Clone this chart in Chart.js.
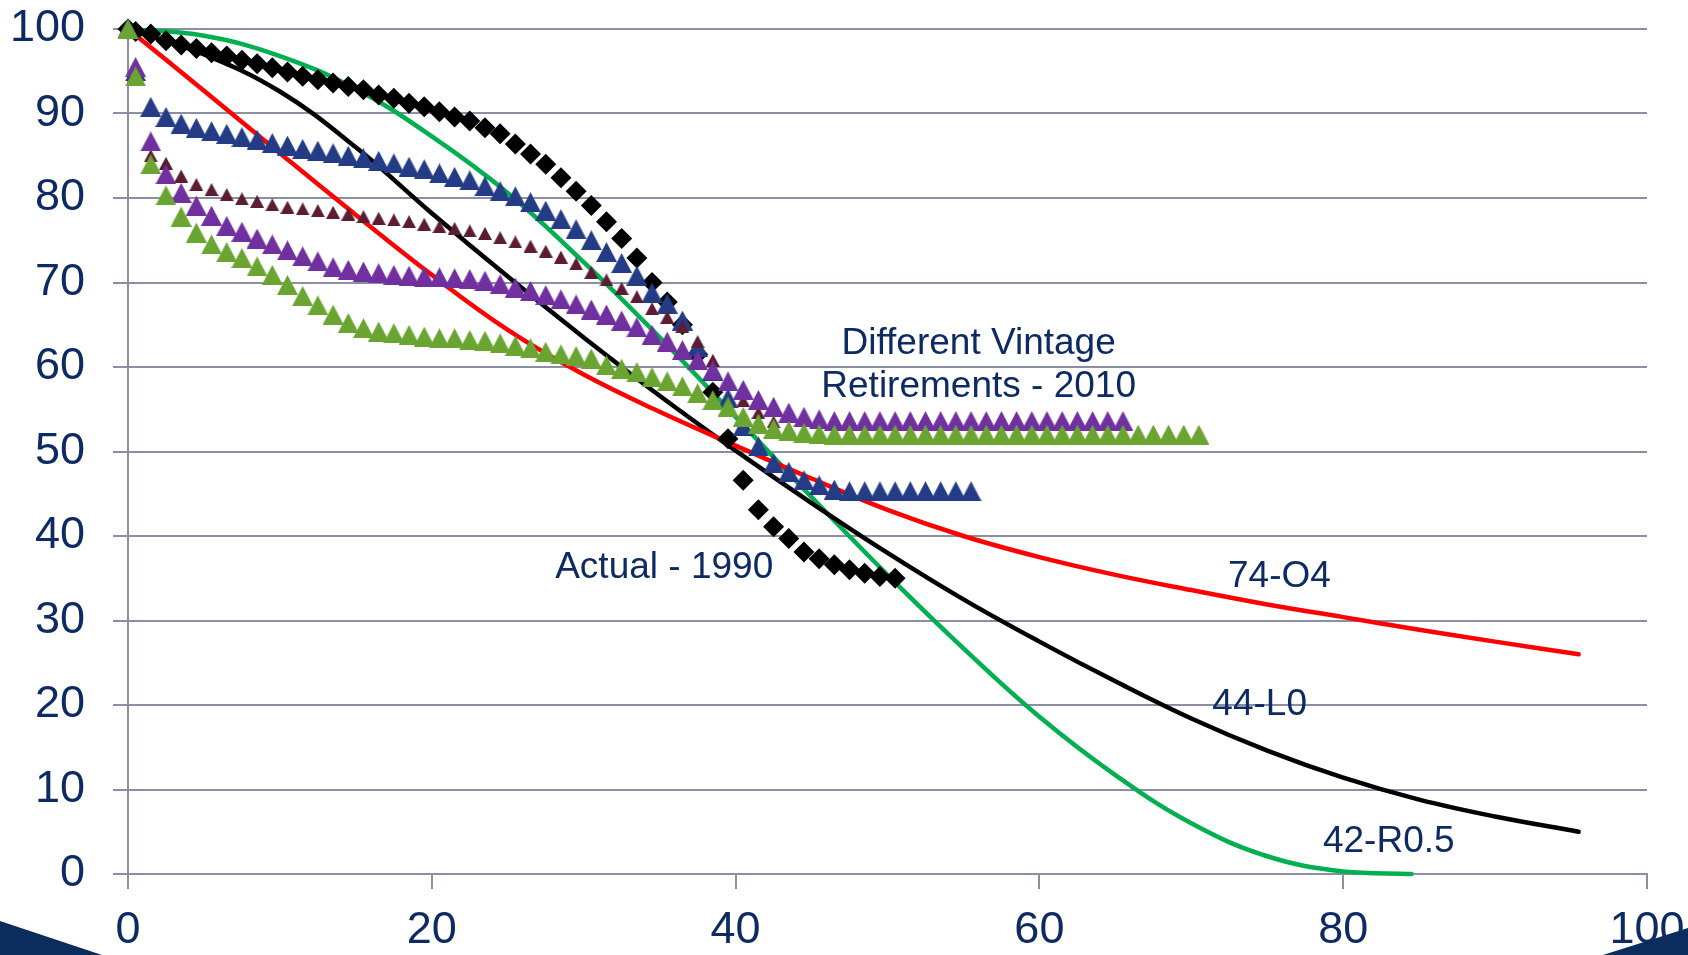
<!DOCTYPE html>
<html>
<head>
<meta charset="utf-8">
<title>Survivor curves</title>
<script src="https://cdn.jsdelivr.net/npm/chart.js@4.4.1/dist/chart.umd.min.js"></script>
<style>
    html, body { margin: 0; padding: 0; background: #ffffff; }
    #wrap { position: relative; width: 1688px; height: 955px; }
</style>
</head>
<body>
<div id="wrap"><canvas id="survivorChart"></canvas></div>
<script>
// Age points shared by the observed (marker) series
const AGES = [0, 0.5, 1.5, 2.5, 3.5, 4.5, 5.5, 6.5, 7.5, 8.5, 9.5, 10.5, 11.5, 12.5, 13.5, 14.5,
    15.5, 16.5, 17.5, 18.5, 19.5, 20.5, 21.5, 22.5, 23.5, 24.5, 25.5, 26.5, 27.5, 28.5, 29.5, 30.5,
    31.5, 32.5, 33.5, 34.5, 35.5, 36.5, 37.5, 38.5, 39.5, 40.5, 41.5, 42.5, 43.5, 44.5, 45.5, 46.5,
    47.5, 48.5, 49.5, 50.5, 51.5, 52.5, 53.5, 54.5, 55.5, 56.5, 57.5, 58.5, 59.5, 60.5, 61.5, 62.5,
    63.5, 64.5, 65.5, 66.5, 67.5, 68.5, 69.5, 70.5];

// Actual - 1990 (black diamonds)
const actual1990 = [100, 99.7, 99.4, 98.6, 98.1, 97.7, 97.2, 96.8, 96.3, 95.9, 95.4, 94.9, 94.4, 94.0,
    93.6, 93.2, 92.8, 92.2, 91.8, 91.2, 90.8, 90.2, 89.6, 89.1, 88.3, 87.6, 86.4, 85.2, 84.0, 82.4,
    80.8, 79.1, 77.2, 75.2, 72.9, 70.0, 67.7, 65.0, 61.5, 57.0, 51.5, 46.6, 43.1, 41.1, 39.7, 38.1,
    37.3, 36.6, 36.0, 35.6, 35.2, 35.0];

// Different vintage retirements - 2010 (triangles)
const vintageBlue = [100, 95.0, 90.8, 89.6, 88.8, 88.3, 87.9, 87.6, 87.2, 86.9, 86.5, 86.2, 85.8, 85.6,
    85.3, 85.0, 84.7, 84.4, 84.1, 83.7, 83.4, 82.9, 82.5, 82.1, 81.4, 80.8, 80.2, 79.5, 78.5, 77.5,
    76.3, 75.0, 73.6, 72.3, 70.8, 68.8, 67.5, 65.5, 62.4, 59.5, 56.3, 53.0, 50.6, 48.6, 47.6, 46.6,
    46.0, 45.5, 45.3, 45.3, 45.3, 45.3, 45.3, 45.3, 45.3, 45.3, 45.3];
const vintageMaroon = [100, 95.0, 85.0, 84.1, 82.6, 81.6, 81.0, 80.4, 79.9, 79.6, 79.2, 78.9, 78.7, 78.5,
    78.3, 78.1, 77.8, 77.6, 77.4, 77.2, 76.9, 76.6, 76.4, 76.1, 75.8, 75.3, 74.8, 74.3, 73.7, 73.0,
    72.2, 71.2, 70.3, 69.3, 68.3, 66.9, 65.9, 64.8, 63.0, 60.8, 58.2, 56.0, 54.6, 53.5, 52.7, 52.2,
    51.9, 51.7, 51.6, 51.5, 51.5, 51.5, 51.5, 51.5, 51.5, 51.5, 51.5, 51.5, 51.5, 51.5, 51.5, 51.5];
const vintagePurple = [100, 95.5, 86.7, 82.8, 80.6, 79.1, 77.9, 76.7, 76.0, 75.2, 74.5, 73.8, 73.1, 72.5,
    71.8, 71.5, 71.3, 71.1, 70.9, 70.8, 70.7, 70.6, 70.5, 70.4, 70.2, 69.8, 69.4, 69.0, 68.5, 68.0,
    67.4, 66.8, 66.2, 65.5, 64.7, 63.8, 63.0, 62.0, 60.8, 59.6, 58.3, 57.3, 56.1, 55.3, 54.6, 54.1,
    53.8, 53.6, 53.6, 53.6, 53.6, 53.6, 53.6, 53.6, 53.6, 53.6, 53.6, 53.6, 53.6, 53.6, 53.6, 53.6,
    53.6, 53.6, 53.6, 53.6, 53.6];
const vintageGreen = [100, 94.4, 84.0, 80.3, 77.8, 75.9, 74.5, 73.6, 72.9, 71.9, 70.9, 69.7, 68.4, 67.3,
    66.2, 65.2, 64.6, 64.2, 64.0, 63.8, 63.6, 63.4, 63.4, 63.2, 63.1, 62.8, 62.5, 62.2, 61.8, 61.5,
    61.3, 61.0, 60.2, 59.8, 59.4, 58.8, 58.3, 57.7, 56.9, 56.1, 55.3, 54.1, 53.3, 52.7, 52.4, 52.2,
    52.1, 52.0, 52.0, 52.0, 52.0, 52.0, 52.0, 52.0, 52.0, 52.0, 52.0, 52.0, 52.0, 52.0, 52.0, 52.0,
    52.0, 52.0, 52.0, 52.0, 52.0, 52.0, 52.0, 52.0, 52.0, 52.0];

// Iowa type curves
const CURVE_AGES = [0, 5, 10, 15, 20, 25, 30, 35, 40, 45, 50, 55, 60, 65, 70, 75, 80, 85, 90, 95.5];
const curve74O4 = [100, 92.7, 85.3, 78.0, 70.9, 64.4, 59.1, 54.7, 50.7, 46.8, 43.1, 40.0, 37.5, 35.4,
    33.6, 31.9, 30.4, 28.9, 27.5, 26.0];
const curve44L0 = [100, 97.0, 92.6, 86.0, 78.2, 70.7, 63.5, 56.6, 50.1, 43.9, 38.0, 32.5, 27.5, 22.8,
    18.4, 14.6, 11.4, 8.8, 6.8, 5.0];
const R05_AGES = [0, 5, 10, 15, 20, 25, 30, 35, 40, 45, 50, 55, 60, 65, 70, 75, 80, 84.5];
const curve42R05 = [100, 99.2, 96.8, 92.9, 87.3, 80.6, 72.4, 63.5, 54.1, 44.6, 35.4, 26.7, 18.6, 11.7,
    6.0, 2.1, 0.3, 0];

const X_TICKS = [0, 20, 40, 60, 80, 100];
const Y_TICKS = [0, 10, 20, 30, 40, 50, 60, 70, 80, 90, 100];

// Text notes (anchored at data coordinates, baseline / centre)
const NOTES = [
    { text: 'Different Vintage', x: 56.0, y: 61.5 },
    { text: 'Retirements - 2010', x: 56.0, y: 56.4 },
    { text: 'Actual - 1990', x: 35.3, y: 35.0 },
    { text: '74-O4', x: 75.8, y: 34.0 },
    { text: '44-L0', x: 74.5, y: 18.8 },
    { text: '42-R0.5', x: 83.0, y: 2.6 }
];

const NAVY = '#0e2a64';
const GRID = '#8c8fa4';
const FONT = '"Liberation Sans", Arial, sans-serif';

function toPoints(xs, ys) {
    return ys.map((y, i) => ({ x: xs[i], y: y }));
}

// Excel style triangle marker: bounding box centred on the point
function triangleMarker(color, w, h) {
    const c = document.createElement('canvas');
    c.width = w;
    c.height = h;
    const g = c.getContext('2d');
    g.fillStyle = color;
    g.beginPath();
    g.moveTo(0, h);
    g.lineTo(w / 2, 0);
    g.lineTo(w, h);
    g.closePath();
    g.fill();
    return c;
}

function markerSeries(label, values, style, radius) {
    return {
        label: label,
        data: toPoints(AGES, values),
        showLine: false,
        pointStyle: style,
        pointRadius: radius,
        pointHoverRadius: radius,
        pointBackgroundColor: '#000000',
        pointBorderWidth: 0,
        clip: false
    };
}

function curveSeries(label, xs, values, color) {
    return {
        label: label,
        data: toPoints(xs, values),
        borderColor: color,
        borderWidth: 4.5,
        pointRadius: 0,
        tension: 0.4,
        borderCapStyle: 'round',
        fill: false,
        clip: false
    };
}

const notesPlugin = {
    id: 'notes',
    afterDatasetsDraw(chart) {
        const ctx = chart.ctx;
        const xs = chart.scales.x, ys = chart.scales.y;
        ctx.save();
        ctx.fillStyle = NAVY;
        ctx.font = '37px ' + FONT;
        ctx.textAlign = 'center';
        ctx.textBaseline = 'alphabetic';
        NOTES.forEach(n => ctx.fillText(n.text, xs.getPixelForValue(n.x), ys.getPixelForValue(n.y)));
        ctx.restore();
    },
    afterDraw(chart) {
        // slide template corners
        const ctx = chart.ctx;
        const w = chart.width, h = chart.height;
        ctx.save();
        ctx.fillStyle = '#0b2d5e';
        ctx.beginPath();
        ctx.moveTo(0, h - 34);
        ctx.lineTo(102, h);
        ctx.lineTo(0, h);
        ctx.closePath();
        ctx.fill();
        ctx.beginPath();
        ctx.moveTo(w - 85, h);
        ctx.lineTo(w, h - 27);
        ctx.lineTo(w, h);
        ctx.closePath();
        ctx.fill();
        ctx.restore();
    }
};

document.addEventListener('DOMContentLoaded', function() {
    const ctx = document.getElementById('survivorChart');

    const green = markerSeries('Vintage 4', vintageGreen, triangleMarker('#6aa531', 21, 20), 10);
    const purple = markerSeries('Vintage 3', vintagePurple, triangleMarker('#7030a0', 21, 20), 10);
    const maroon = markerSeries('Vintage 2', vintageMaroon, triangleMarker('#5c1d33', 14, 13), 7);
    const blue = markerSeries('Vintage 1', vintageBlue, triangleMarker('#243c86', 21, 20), 10);
    const diamonds = markerSeries('Actual - 1990', actual1990, 'rectRot', 10.5);

    new Chart(ctx, {
        type: 'line',
        data: {
            // first dataset is drawn on top
            datasets: [
                green, purple, maroon, blue, diamonds,
                curveSeries('74-O4', CURVE_AGES, curve74O4, '#ff0000'),
                curveSeries('44-L0', CURVE_AGES, curve44L0, '#000000'),
                curveSeries('42-R0.5', R05_AGES, curve42R05, '#00b050')
            ]
        },
        options: {
            responsive: true,
            maintainAspectRatio: false,
            animation: false,
            layout: { padding: { top: 29, right: 41, left: 0, bottom: 0 } },
            plugins: {
                legend: { display: false },
                tooltip: { enabled: false }
            },
            scales: {
                x: {
                    type: 'linear',
                    min: 0,
                    max: 100,
                    afterFit: function(scale) {
                        scale.height = 81;
                        scale.paddingLeft = 0;
                        scale.paddingRight = 0;
                    },
                    afterBuildTicks: function(scale) { scale.ticks = X_TICKS.map(v => ({ value: v })); },
                    grid: { drawOnChartArea: false, drawTicks: true, tickLength: 15, color: GRID, lineWidth: 2 },
                    border: { display: true, color: GRID, width: 2 },
                    ticks: { color: NAVY, padding: 15, maxRotation: 0, font: { family: FONT, size: 45 } }
                },
                y: {
                    min: 0,
                    max: 100,
                    afterFit: function(scale) {
                        scale.width = 128;
                        scale.paddingTop = 0;
                        scale.paddingBottom = 0;
                    },
                    afterBuildTicks: function(scale) { scale.ticks = Y_TICKS.map(v => ({ value: v })); },
                    grid: { drawTicks: true, tickLength: 15, color: GRID, lineWidth: 2 },
                    border: { display: true, color: GRID, width: 2 },
                    ticks: { color: NAVY, padding: 28, font: { family: FONT, size: 45 } }
                }
            }
        },
        plugins: [notesPlugin]
    });
});
</script>
</body>
</html>
